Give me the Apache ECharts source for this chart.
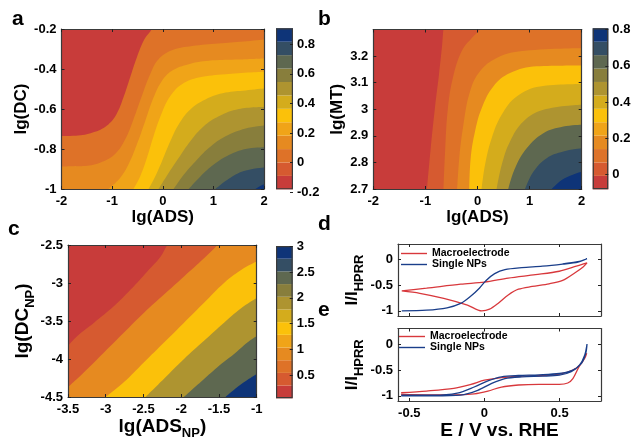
<!DOCTYPE html>
<html>
<head>
<meta charset="utf-8">
<script src="https://cdn.jsdelivr.net/npm/echarts@6/dist/echarts.min.js"></script>
<style>
  html, body { margin: 0; padding: 0; background: #fff; }
  #chart { width: 635px; height: 441px; }
</style>
</head>
<body>
<div id="chart"></div>
<script>
const FONT = '"Liberation Sans", Arial, Helvetica, sans-serif';

// colour map shared by the three colour bars (bottom -> top)
const cmap = ['#C83C3A', '#D65A30', '#DE7228', '#E68A20', '#F0A418', '#FBC10A',
  '#D4AC1C', '#AE9430', '#887E3C', '#5E6850', '#344E64', '#0E3478'];

// ---- panel a : lg(ADS) vs lg(DC) ----
const aXTicks = [-2, -1, 0, 1, 2];
const aYTicks = [-1, -0.8, -0.6, -0.4, -0.2];
// contour lines, lowest level first [lg(ADS), lg(DC)]
const aLevels = [
  [[-2, -0.736], [-1.669, -0.733], [-1.339, -0.714], [-1.074, -0.677], [-0.909, -0.624], [-0.777, -0.543], [-0.645, -0.443], [-0.512, -0.342], [-0.36, -0.25], [-0.215, -0.2], [-0.1, -0.12], [2, -0.12]],
  [[-2, -0.887], [-1.537, -0.885], [-1.207, -0.865], [-0.942, -0.825], [-0.744, -0.753], [-0.579, -0.652], [-0.413, -0.535], [-0.248, -0.426], [-0.083, -0.351], [0.182, -0.306], [0.579, -0.285], [1.1, -0.272], [1.6, -0.262], [2, -0.252]],
  [[-1.074, -1], [-0.843, -0.945], [-0.678, -0.878], [-0.512, -0.778], [-0.347, -0.661], [-0.182, -0.543], [-0.017, -0.46], [0.182, -0.409], [0.512, -0.376], [0.909, -0.359], [1.438, -0.353], [2, -0.347]],
  [[-0.579, -1], [-0.446, -0.937], [-0.314, -0.845], [-0.182, -0.736], [-0.017, -0.619], [0.149, -0.535], [0.38, -0.476], [0.711, -0.443], [1.24, -0.426], [2, -0.414]],
  [[-0.281, -1], [-0.149, -0.937], [-0.017, -0.862], [0.149, -0.761], [0.314, -0.677], [0.545, -0.602], [0.843, -0.552], [1.24, -0.518], [1.636, -0.507], [2, -0.498]],
  [[-0.083, -1], [0.116, -0.92], [0.314, -0.845], [0.545, -0.761], [0.81, -0.686], [1.107, -0.636], [1.504, -0.6], [2, -0.59]],
  [[0.215, -1], [0.413, -0.929], [0.645, -0.862], [0.909, -0.795], [1.24, -0.736], [1.636, -0.697], [2, -0.682]],
  [[0.512, -1], [0.744, -0.937], [1.008, -0.878], [1.306, -0.83], [1.636, -0.8], [2, -0.791]],
  [[1.041, -1], [1.306, -0.949], [1.603, -0.91], [2, -0.892]],
  [[1.835, -1], [1.934, -0.984], [2, -0.976]]
];
const aBarRange = [-0.18, 0.908];
const aBarTicks = [-0.2, 0, 0.2, 0.4, 0.6, 0.8];

// ---- panel b : lg(ADS) vs lg(MT) ----
const bXTicks = [-2, -1, 0, 1, 2];
const bYTicks = [2.7, 2.8, 2.9, 3, 3.1, 3.2];
const bLevels = [
  [[-0.97, 2.7], [-0.9, 2.85], [-0.82, 3.0], [-0.74, 3.13], [-0.68, 3.24], [-0.655, 3.3], [-0.6, 3.4], [2, 3.4]],
  [[-0.652, 2.7], [-0.62, 2.85], [-0.57, 3.0], [-0.47, 3.12], [-0.3, 3.22], [-0.1, 3.27], [0.05, 3.3], [0.2, 3.36], [2, 3.36]],
  [[-0.39, 2.7], [-0.35, 2.816], [-0.272, 2.94], [-0.144, 3.067], [0.048, 3.143], [0.368, 3.193], [0.816, 3.218], [2, 3.229]],
  [[-0.157, 2.7], [-0.131, 2.816], [-0.048, 2.916], [0.08, 3.004], [0.304, 3.086], [0.624, 3.136], [1.136, 3.162], [2, 3.165]],
  [[0.08, 2.7], [0.144, 2.79], [0.272, 2.891], [0.464, 2.979], [0.752, 3.048], [1.2, 3.086], [2, 3.095]],
  [[0.368, 2.7], [0.464, 2.79], [0.624, 2.879], [0.88, 2.954], [1.264, 2.998], [2, 3.017]],
  [[0.592, 2.7], [0.72, 2.778], [0.944, 2.853], [1.264, 2.91], [1.648, 2.935], [2, 2.942]],
  [[0.912, 2.7], [1.072, 2.765], [1.328, 2.816], [1.648, 2.841], [2, 2.853]],
  [[1.424, 2.7], [1.616, 2.734], [1.84, 2.755], [2, 2.765]]
];
const bBarRange = [-0.083, 0.808];
const bBarTicks = [0, 0.2, 0.4, 0.6, 0.8];

// ---- panel c : lg(ADS_NP) vs lg(DC_NP) ----
const cXTicks = [-3.5, -3, -2.5, -2, -1.5, -1];
const cYTicks = [-4.5, -4, -3.5, -3, -2.5];
const cLevels = [
  [[-3.5, -3.826], [-3.376, -3.696], [-3.155, -3.522], [-2.89, -3.304], [-2.67, -3.087], [-2.449, -2.848], [-2.272, -2.652], [-2.184, -2.5], [-2.0, -2.25], [-1, -2.25]],
  [[-3.5, -4.37], [-3.288, -4.174], [-3.023, -3.913], [-2.758, -3.652], [-2.493, -3.391], [-2.228, -3.152], [-1.963, -2.913], [-1.698, -2.674], [-1.521, -2.5], [-1.35, -2.3], [-1, -2.3]],
  [[-3.0, -4.5], [-2.758, -4.304], [-2.493, -4.043], [-2.228, -3.783], [-1.963, -3.522], [-1.698, -3.261], [-1.433, -3.0], [-1.168, -2.804], [-1.0, -2.717]],
  [[-2.471, -4.5], [-2.228, -4.261], [-1.963, -4.0], [-1.698, -3.761], [-1.433, -3.522], [-1.168, -3.304], [-1.0, -3.196]],
  [[-1.963, -4.5], [-1.742, -4.304], [-1.521, -4.109], [-1.3, -3.935], [-1.124, -3.783], [-1.0, -3.696]],
  [[-1.411, -4.5], [-1.256, -4.37], [-1.102, -4.261], [-1.0, -4.196]]
];
const cBarRange = [0.046, 3.01];
const cBarTicks = [0.5, 1, 1.5, 2, 2.5, 3];

// ---- panels d, e : normalised CVs [E / V vs RHE, I/I_HPRR] ----
const eTicks = [-0.5, 0, 0.5];
const iTicks = [-1, -0.5, 0];
const dMacro = [[-0.55, -0.612], [-0.43, -0.658], [-0.271, -0.757], [-0.113, -0.888], [-0.018, -1.0], [0.034, -0.967], [0.09, -0.855], [0.158, -0.691], [0.226, -0.579], [0.317, -0.526], [0.43, -0.474], [0.52, -0.408], [0.6, -0.263], [0.656, -0.145], [0.682, -0.066],
  [0.611, -0.132], [0.498, -0.23], [0.339, -0.296], [0.158, -0.362], [0, -0.441], [-0.158, -0.48], [-0.385, -0.559], [-0.55, -0.612]];
const dSingle = [[-0.55, -1.0], [-0.385, -0.987], [-0.249, -0.941], [-0.158, -0.855], [-0.09, -0.711], [-0.034, -0.559], [0.011, -0.408], [0.068, -0.276], [0.136, -0.197], [0.249, -0.158], [0.385, -0.132], [0.52, -0.092], [0.622, -0.053], [0.682, 0.013],
  [0.62, -0.045], [0.52, -0.085]];
const eMacro = [[-0.554, -0.941], [-0.385, -0.908], [-0.204, -0.856], [-0.09, -0.778], [0, -0.699], [0.113, -0.647], [0.249, -0.621], [0.385, -0.608], [0.498, -0.582], [0.588, -0.503], [0.645, -0.373], [0.68, -0.18],
  [0.667, -0.275], [0.629, -0.438], [0.588, -0.667], [0.554, -0.752], [0.498, -0.778], [0.362, -0.778], [0.226, -0.791], [0.113, -0.83], [0.023, -0.908], [-0.068, -0.961], [-0.204, -0.98], [-0.385, -0.98], [-0.554, -0.974]];
const eSingle = [[-0.554, -1.0], [-0.339, -1.0], [-0.158, -0.987], [-0.045, -0.895], [0.045, -0.765], [0.136, -0.667], [0.249, -0.634], [0.385, -0.621], [0.498, -0.601], [0.577, -0.536], [0.633, -0.405], [0.667, -0.209], [0.682, 0.0],
  [0.674, -0.176], [0.645, -0.373], [0.588, -0.503], [0.498, -0.569], [0.362, -0.595], [0.226, -0.608], [0.113, -0.634], [0.023, -0.712], [-0.068, -0.83], [-0.181, -0.948], [-0.339, -0.987], [-0.554, -0.987]];

// ------------------------------------------------------------
const grid = [], xAxis = [], yAxis = [], series = [];
const bold = { fontFamily: FONT, fontWeight: 'bold', color: '#000' };
const frameLine = { show: true, onZero: false, lineStyle: { color: '#3a3a3a', width: 1.2 } };

function ticks(vals) {
  return { show: true, inside: true, length: 3, customValues: vals, lineStyle: { color: '#222', width: 1 } };
}
function labels(vals, show, margin) {
  return { show: show, customValues: vals, margin: margin, fontSize: 13, ...bold, formatter: (v) => String(v) };
}
function richName(size, subSize) {
  return {
    rich: {
      m: { ...bold, fontSize: size, verticalAlign: 'top' },
      s: { ...bold, fontSize: subSize, verticalAlign: 'top', padding: [Math.round(size * 0.5), 0, 0, 0] }
    }
  };
}

// plot box with a frame and inward ticks on all four sides
function panel(box, xr, yr, xt, yt, o) {
  const gi = grid.length;
  grid.push({ left: box[0], top: box[1], width: box[2], height: box[3], show: true,
    borderWidth: 0, backgroundColor: o.bg || 'rgba(0,0,0,0)' });
  const xi = xAxis.length, yi = yAxis.length;
  xAxis.push({ type: 'value', gridIndex: gi, position: 'bottom', min: xr[0], max: xr[1], z: 10,
    axisLine: frameLine, axisTick: ticks(xt), axisLabel: labels(xt, o.xLabels !== false, 6),
    splitLine: { show: false }, name: o.xName || '', nameLocation: 'middle', nameGap: o.xGap,
    nameTextStyle: o.xStyle });
  xAxis.push({ type: 'value', gridIndex: gi, position: 'top', min: xr[0], max: xr[1], z: 10,
    axisLine: frameLine, axisTick: ticks(xt), axisLabel: { show: false }, splitLine: { show: false } });
  yAxis.push({ type: 'value', gridIndex: gi, position: 'left', min: yr[0], max: yr[1], z: 10,
    axisLine: frameLine, axisTick: ticks(yt), axisLabel: labels(yt, true, 5),
    splitLine: { show: false }, name: o.yName, nameLocation: 'middle', nameGap: o.yGap,
    nameTextStyle: o.yStyle });
  yAxis.push({ type: 'value', gridIndex: gi, position: 'right', min: yr[0], max: yr[1], z: 10,
    axisLine: frameLine, axisTick: ticks(yt), axisLabel: { show: false }, splitLine: { show: false } });
  return { xi: xi, yi: yi };
}

// filled contours: each level line fills everything beneath it
function contour(ax, levels, fill) {
  levels.forEach((pts, i) => {
    series.push({ type: 'line', xAxisIndex: ax.xi, yAxisIndex: ax.yi, data: pts,
      symbol: 'none', smooth: 0.4, silent: true, clip: true, z: 2,
      lineStyle: { width: 0, opacity: 0 },
      areaStyle: { color: cmap[fill[i]], opacity: 1, origin: 'start' } });
  });
}

function colorbar(box, range, tks) {
  const gi = grid.length;
  const lo = Math.min(range[0], tks[0]);
  const w = (range[1] - range[0]) / cmap.length;
  grid.push({ left: box[0], top: box[1], width: box[2], height: box[3] });
  const xi = xAxis.length, yi = yAxis.length;
  xAxis.push({ type: 'category', gridIndex: gi, data: [''], show: false });
  yAxis.push({ type: 'value', gridIndex: gi, show: false, min: (lo - range[0]) / w, max: cmap.length });
  yAxis.push({ type: 'value', gridIndex: gi, position: 'right', min: lo, max: range[1], z: 10,
    axisLine: { show: false }, axisTick: ticks(tks), axisLabel: labels(tks, true, 4),
    splitLine: { show: false } });
  cmap.forEach((c) => series.push({ type: 'bar', xAxisIndex: xi, yAxisIndex: yi, stack: 'cb' + gi,
    data: [1], barWidth: '100%', barGap: '-100%', silent: true, itemStyle: { color: c } }));
  series.push({ type: 'bar', xAxisIndex: xi, yAxisIndex: yi, data: [cmap.length], barWidth: '100%',
    barGap: '-100%', silent: true, z: 3,
    itemStyle: { color: 'rgba(0,0,0,0)', borderColor: '#3a3a3a', borderWidth: 1.2 } });
}

const nameA = { ...bold, fontSize: 17 };

const pa = panel([61.5, 29, 202.5, 160], [-2, 2], [-1, -0.2], aXTicks, aYTicks, {
  bg: cmap[0], xName: 'lg(ADS)', xGap: 19, xStyle: nameA, yName: 'lg(DC)', yGap: 30, yStyle: nameA });
contour(pa, aLevels, [2, 3, 4, 5, 6, 7, 8, 9, 10, 11]);
colorbar([276, 28.3, 17, 164], aBarRange, aBarTicks);

const pb = panel([373.3, 29.5, 208.4, 159.5], [-2, 2], [2.7, 3.3], bXTicks, bYTicks, {
  bg: cmap[0], xName: 'lg(ADS)', xGap: 19, xStyle: nameA, yName: 'lg(MT)', yGap: 27, yStyle: nameA });
contour(pb, bLevels, [1, 2, 3, 5, 6, 7, 9, 10, 11]);
colorbar([592.7, 28.3, 15.6, 161], bBarRange, bBarTicks);

const pc = panel([68, 245, 188.7, 153.3], [-3.5, -1], [-4.5, -2.5], cXTicks, cYTicks, {
  bg: cmap[0], xName: '{m|lg(ADS}{s|NP}{m|)}', xGap: 20, xStyle: richName(19, 13),
  yName: '{m|lg(DC}{s|NP}{m|)}', yGap: 30, yStyle: richName(19, 13) });
contour(pc, cLevels, [1, 3, 5, 7, 9, 11]);
colorbar([276, 246, 16.7, 152.3], cBarRange, cBarTicks);

const pd = panel([398, 244, 203, 72], [-0.575, 0.775], [-1.1, 0.3], eTicks, iTicks, {
  xLabels: false, yName: '{m|I/I}{s|HPRR}', yGap: 32, yStyle: richName(17, 13) });
const pe = panel([398, 328.5, 203, 72.5], [-0.575, 0.775], [-1.1, 0.3], eTicks, iTicks, {
  xName: 'E / V vs. RHE', xGap: 19, xStyle: { ...bold, fontSize: 19 },
  yName: '{m|I/I}{s|HPRR}', yGap: 32, yStyle: richName(17, 13) });

function cv(ax, name, data, color) {
  series.push({ type: 'line', name: name, xAxisIndex: ax.xi, yAxisIndex: ax.yi, data: data,
    symbol: 'none', smooth: 0.3, z: 3, lineStyle: { color: color, width: 1.3 }, itemStyle: { color: color } });
}
cv(pd, 'Macroelectrode', dMacro, '#D8383C');
cv(pd, 'Single NPs', dSingle, '#1A3E8A');
cv(pe, 'Macroelectrode', eMacro, '#D8383C');
cv(pe, 'Single NPs', eSingle, '#1A3E8A');

const legendText = { ...bold, fontSize: 10.5, lineHeight: 11 };
const legendBox = (left, top) => ({ data: ['Macroelectrode', 'Single NPs'], orient: 'vertical',
  left: left, top: top, padding: 0, icon: 'rect', itemWidth: 26, itemHeight: 1.4, itemGap: 0,
  selectedMode: false, textStyle: legendText });
const panelLetter = (t, left, top) => ({ text: t, left: left, top: top, padding: 0,
  textStyle: { ...bold, fontSize: 21 } });

const chart = echarts.init(document.getElementById('chart'), null, { renderer: 'canvas' });
chart.setOption({
  animation: false,
  backgroundColor: '#fff',
  title: [
    panelLetter('a', 12, 9),
    panelLetter('b', 318, 9),
    panelLetter('c', 8, 219),
    panelLetter('d', 318, 214),
    panelLetter('e', 318, 300)
  ],
  legend: [legendBox(401, 248), legendBox(399, 331)],
  grid: grid,
  xAxis: xAxis,
  yAxis: yAxis,
  series: series
});
</script>
</body>
</html>
